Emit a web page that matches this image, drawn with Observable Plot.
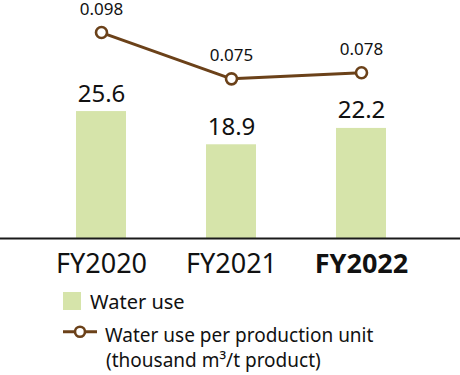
<!DOCTYPE html>
<html><head><meta charset="utf-8">
<script src="https://cdn.jsdelivr.net/npm/d3@7"></script>
<script src="https://cdn.jsdelivr.net/npm/@observablehq/plot@0.6"></script>
<style>
body{margin:0;background:#fff;font-family:"Noto Sans",sans-serif}
#chart{position:relative;width:460px;height:375px;overflow:hidden}
#chart svg{display:block}
</style></head><body><div id="chart"></div>
<script>
const years = ["FY2020", "FY2021", "FY2022"];
const waterUse = [25.6, 18.9, 22.2];
const perUnit = [0.098, 0.075, 0.078];
const highlightYear = "FY2022";
const legendLabels = ["Water use", "Water use per production unit", "(thousand m³/t product)"];

const barColor = "#d6e4aa";
const lineColor = "#6b4119";
const textColor = "#111";

const bars = years.map((year, i) => ({year, value: waterUse[i]}));
const ratios = years.map((year, i) => ({year, value: perUnit[i]}));
// secondary (per-unit) axis expressed in primary y units
const ratioToY = d3.scaleLinear([0, 0.1], [1.75, 42.35]);

const plot = Plot.plot({
  width: 460, height: 285,
  marginTop: 0, marginBottom: 47, marginLeft: 36, marginRight: 34,
  x: {domain: years, paddingInner: 0.6154, paddingOuter: 0.3077, axis: null},
  y: {domain: [0, 48], axis: null},
  style: {fontFamily: '"Noto Sans", sans-serif', color: textColor, background: "white", overflow: "visible"},
  marks: [
    Plot.barY(bars, {x: "year", y: "value", fill: barColor}),
    Plot.ruleY([0], {stroke: "#1a1a1a", strokeWidth: 2, insetLeft: -36, insetRight: -34}),
    Plot.text(bars, {x: "year", y: "value", text: d => d.value.toFixed(1), dy: -10, lineAnchor: "bottom", fontSize: 24, fill: textColor}),
    Plot.line(ratios, {x: "year", y: d => ratioToY(d.value), stroke: lineColor, strokeWidth: 3}),
    Plot.dot(ratios, {x: "year", y: d => ratioToY(d.value), r: 5.5, fill: "white", stroke: lineColor, strokeWidth: 2.6}),
    Plot.text(ratios, {x: "year", y: d => ratioToY(d.value), text: d => d.value.toFixed(3), dy: -18, lineAnchor: "bottom", fontSize: 17, fill: textColor}),
    Plot.text(years.filter(y => y !== highlightYear), {x: d => d, text: d => d, frameAnchor: "bottom", lineAnchor: "top", dy: 15, fontSize: 27, fill: textColor}),
    Plot.text([highlightYear], {x: d => d, text: d => d, frameAnchor: "bottom", lineAnchor: "top", dy: 15, fontSize: 27, fontWeight: "bold", fill: textColor})
  ]
});
document.getElementById("chart").appendChild(plot);

// legend
const lg = d3.select("#chart").append("svg")
  .attr("width", 460).attr("height", 90)
  .style("font-family", '"Noto Sans", sans-serif');
lg.append("rect").attr("x", 63).attr("y", 7).attr("width", 18).attr("height", 18).attr("fill", barColor);
lg.append("text").attr("x", 90).attr("y", 24.3).attr("font-size", 20).attr("fill", textColor).text(legendLabels[0]);
lg.append("line").attr("x1", 63).attr("x2", 97).attr("y1", 46.7).attr("y2", 46.7).attr("stroke", lineColor).attr("stroke-width", 3);
lg.append("circle").attr("cx", 80).attr("cy", 46.7).attr("r", 5).attr("fill", "white").attr("stroke", lineColor).attr("stroke-width", 2.6);
lg.append("text").attr("x", 105).attr("y", 56.7).attr("font-size", 19).attr("fill", textColor).text(legendLabels[1]);
lg.append("text").attr("x", 106).attr("y", 82.3).attr("font-size", 19).attr("fill", textColor).text(legendLabels[2]);
</script></body></html>
